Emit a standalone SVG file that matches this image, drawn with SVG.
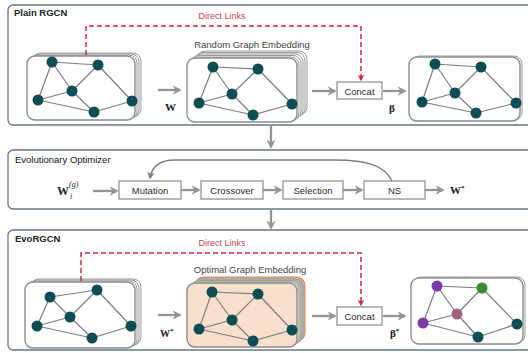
<svg xmlns="http://www.w3.org/2000/svg" width="528" height="353" viewBox="0 0 528 353">
<defs>
<style>
.panel{fill:#ffffff;stroke:#6b7680;stroke-width:1.3}
.title{font-family:"Liberation Sans",Arial,sans-serif;font-weight:bold;font-size:9.5px;fill:#222}
.lbl{font-family:"Liberation Sans",Arial,sans-serif;font-size:9.5px;fill:#2a2a2a;text-anchor:middle}
.red{font-family:"Liberation Sans",Arial,sans-serif;font-size:9px;fill:#cc4455;text-anchor:middle}
.box{fill:#fff;stroke:#7a8288;stroke-width:1.1}
.gb{fill:#fff;stroke:#8c8c8c;stroke-width:1.4}
.gs{fill:#fff;stroke:#9a9a9a;stroke-width:1}
.edge{stroke:#7d7d7d;stroke-width:1.2;fill:none}
.n{fill:#0e4d54}
.arr{stroke:#959595;stroke-width:2.3;fill:none;marker-end:url(#ah)}
.dash{stroke:#c8283a;stroke-width:1.5;fill:none;stroke-dasharray:5,3}
.math{font-family:"Liberation Serif","Times New Roman",serif;font-weight:bold;fill:#222}
</style>
<marker id="ah" viewBox="0 0 10 10" refX="8" refY="5" markerWidth="4" markerHeight="4" orient="auto"><path d="M0,0 L10,5 L0,10 L3,5 z" fill="#959595"/></marker>
<marker id="ah2" viewBox="0 0 10 10" refX="8" refY="5" markerWidth="5" markerHeight="5" orient="auto"><path d="M0,0 L10,5 L0,10 L3,5 z" fill="#7d7d7d"/></marker>
<marker id="rh" viewBox="0 0 10 10" refX="8" refY="5" markerWidth="4.5" markerHeight="4.5" orient="auto"><path d="M0,0 L10,5 L0,10 L3,5 z" fill="#c8283a"/></marker>
</defs>

<!-- Panels -->
<g id="panel-plain">
<rect class="panel" x="8" y="5" width="530" height="120" rx="5"/>
<text class="title" x="14" y="16">Plain RGCN</text>
</g>
<g id="panel-evo">
<rect class="panel" x="8" y="150" width="530" height="59" rx="5"/>
<text class="title" x="15" y="163" style="font-weight:normal;fill:#111">Evolutionary Optimizer</text>
</g>
<g id="panel-evorgcn">
<rect class="panel" x="8" y="230" width="530" height="120" rx="5"/>
<text class="title" x="15" y="242">EvoRGCN</text>
</g>

<!-- Plain RGCN graphs -->
<g id="g1-input">
<rect class="gs" x="33" y="53" width="108" height="64" rx="8"/>
<rect class="gs" x="31" y="54" width="108" height="64" rx="8"/>
<rect class="gs" x="29" y="55" width="108" height="64" rx="8"/>
<rect class="gb" x="27" y="56" width="108" height="64" rx="8"/>
<path class="edge" d="M52,62 L98,65 M52,62 L72,91 M52,62 L38,100 M98,65 L72,91 M98,65 L132,101 M72,91 L38,100 M72,91 L94,112 M38,100 L94,112 M94,112 L132,101"/>
<circle class="n" cx="52" cy="62" r="5.5"/><circle class="n" cx="98" cy="65" r="5.5"/><circle class="n" cx="72" cy="91" r="5.5"/><circle class="n" cx="38" cy="100" r="5.5"/><circle class="n" cx="132" cy="101" r="5.5"/><circle class="n" cx="94" cy="112" r="5.5"/>
</g>
<g id="g1-embed">
<text class="lbl" x="252" y="48" style="fill:#444">Random Graph Embedding</text>
<rect class="gs" x="197" y="51" width="110" height="64" rx="8"/>
<rect class="gs" x="195" y="52.5" width="110" height="64" rx="8"/>
<rect class="gs" x="193" y="54" width="110" height="64" rx="8"/>
<rect class="gs" x="191" y="55.5" width="110" height="64" rx="8"/>
<rect class="gs" x="189" y="57" width="110" height="64" rx="8"/>
<rect class="gb" x="187" y="58" width="110" height="64" rx="8"/>
<path class="edge" d="M213,67 L258,69 M213,67 L232,94 M213,67 L199,103 M258,69 L232,94 M258,69 L292,104 M232,94 L199,103 M232,94 L253,115 M199,103 L253,115 M253,115 L292,104"/>
<circle class="n" cx="213" cy="67" r="5.5"/><circle class="n" cx="258" cy="69" r="5.5"/><circle class="n" cx="232" cy="94" r="5.5"/><circle class="n" cx="199" cy="103" r="5.5"/><circle class="n" cx="292" cy="104" r="5.5"/><circle class="n" cx="253" cy="115" r="5.5"/>
</g>
<g id="concat1">
<rect class="box" x="337" y="82" width="45" height="17"/>
<text class="lbl" x="359.5" y="94.5">Concat</text>
</g>
<g id="g1-output">
<rect class="gs" x="411" y="56" width="111" height="64" rx="8"/>
<rect class="gb" x="409" y="57" width="111" height="64" rx="8"/>
<path class="edge" d="M435,64 L481,67 M435,64 L455,93 M435,64 L422,102 M481,67 L455,93 M481,67 L516,103 M455,93 L422,102 M455,93 L476,113 M422,102 L476,113 M476,113 L516,103"/>
<circle class="n" cx="435" cy="64" r="5.5"/><circle class="n" cx="481" cy="67" r="5.5"/><circle class="n" cx="455" cy="93" r="5.5"/><circle class="n" cx="422" cy="102" r="5.5"/><circle class="n" cx="516" cy="103" r="5.5"/><circle class="n" cx="476" cy="113" r="5.5"/>
</g>

<!-- Evolutionary optimizer nodes -->
<g id="mutation"><rect class="box" x="119" y="181" width="62" height="18"/><text class="lbl" x="150" y="193.5">Mutation</text></g>
<g id="crossover"><rect class="box" x="201" y="181" width="62" height="18"/><text class="lbl" x="232" y="193.5">Crossover</text></g>
<g id="selection"><rect class="box" x="283" y="181" width="60" height="18"/><text class="lbl" x="313" y="193.5">Selection</text></g>
<g id="ns"><rect class="box" x="364" y="181" width="61" height="18"/><text class="lbl" x="394.5" y="193.5">NS</text></g>

<!-- EvoRGCN graphs -->
<g id="g3-input">
<rect class="gs" x="31" y="279" width="110" height="66" rx="8"/>
<rect class="gs" x="29" y="280" width="110" height="66" rx="8"/>
<rect class="gs" x="27" y="281" width="110" height="66" rx="8"/>
<rect class="gb" x="25" y="282" width="110" height="66" rx="8"/>
<path class="edge" d="M50,297 L97,290 M50,297 L70,317 M50,297 L37,326 M97,290 L70,317 M97,290 L131,326 M70,317 L37,326 M70,317 L92,338 M37,326 L92,338 M92,338 L131,326"/>
<circle class="n" cx="50" cy="297" r="5.5"/><circle class="n" cx="97" cy="290" r="5.5"/><circle class="n" cx="70" cy="317" r="5.5"/><circle class="n" cx="37" cy="326" r="5.5"/><circle class="n" cx="131" cy="326" r="5.5"/><circle class="n" cx="92" cy="338" r="5.5"/>
</g>
<g id="g3-embed">
<text class="lbl" x="250" y="273" style="fill:#444">Optimal Graph Embedding</text>
<rect x="195" y="277" width="110" height="64" rx="8" fill="#e3a77e" stroke="#c98c62" stroke-width="1"/>
<rect x="193" y="279" width="110" height="64" rx="8" fill="#aebbd4" stroke="#8f9db8" stroke-width="1"/>
<rect x="191" y="280.5" width="110" height="64" rx="8" fill="#b9c6a9" stroke="#98a688" stroke-width="1"/>
<rect x="189" y="282" width="110" height="64" rx="8" fill="#f8dccb" stroke="#b0a49a" stroke-width="1"/>
<rect x="187" y="283" width="110" height="64" rx="8" fill="#f8dfce" stroke="#8c8c8c" stroke-width="1.4"/>
<path class="edge" d="M212,292 L258,294 M212,292 L232,320 M212,292 L199,329 M258,294 L232,320 M258,294 L292,330 M232,320 L199,329 M232,320 L253,341 M199,329 L253,341 M253,341 L292,330"/>
<circle class="n" cx="212" cy="292" r="5.5"/><circle class="n" cx="258" cy="294" r="5.5"/><circle class="n" cx="232" cy="320" r="5.5"/><circle class="n" cx="199" cy="329" r="5.5"/><circle class="n" cx="292" cy="330" r="5.5"/><circle class="n" cx="253" cy="341" r="5.5"/>
</g>
<g id="concat2">
<rect class="box" x="337" y="307" width="45" height="18"/>
<text class="lbl" x="359.5" y="319.5">Concat</text>
</g>
<g id="g3-output">
<rect class="gs" x="413" y="277" width="112" height="66" rx="8"/>
<rect class="gb" x="411" y="278" width="112" height="66" rx="8"/>
<path class="edge" d="M437,286 L482,288 M437,286 L457,314 M437,286 L423,323 M482,288 L457,314 M482,288 L517,324 M457,314 L423,323 M457,314 L478,337 M423,323 L478,337 M478,337 L517,324"/>
<circle cx="437" cy="286" r="5.5" fill="#7b3aa3"/><circle cx="482" cy="288" r="5.5" fill="#3a8a3a"/><circle cx="457" cy="314" r="5.5" fill="#a2627e"/><circle cx="423" cy="323" r="5.5" fill="#7b3aa3"/><circle class="n" cx="517" cy="324" r="5.5"/><circle class="n" cx="478" cy="337" r="5.5"/>
</g>

<!-- Connectors -->
<g id="connectors">
<path class="dash" d="M86,55 L86,26 L361,26 L361,80" marker-end="url(#rh)"/>
<text class="red" x="222" y="19">Direct Links</text>
<path class="arr" d="M158,90 L180,90"/>
<path class="arr" d="M312,91 L335,91"/>
<path class="arr" d="M383,91 L405,91"/>
<path class="arr" d="M271,126 L271,147"/>
<path class="arr" d="M93,191 L117,191"/>
<path class="arr" d="M181,190 L199,190"/>
<path class="arr" d="M263,190 L281,190"/>
<path class="arr" d="M343,190 L362,190"/>
<path class="arr" d="M425,190 L443,190"/>
<path d="M392,181 C385,166 368,160 335,160 L175,160 C160,160 152,166 150,178" stroke="#7d7d7d" stroke-width="1.5" fill="none" marker-end="url(#ah2)"/>
<path class="arr" d="M271,210 L271,228"/>
<path class="dash" d="M81,281 L81,253 L361,253 L361,305" marker-end="url(#rh)"/>
<text class="red" x="222" y="246">Direct Links</text>
<path class="arr" d="M158,315 L180,315"/>
<path class="arr" d="M312,316 L335,316"/>
<path class="arr" d="M383,316 L405,316"/>
</g>

<!-- math labels -->
<text class="math" x="165" y="111" font-size="11" font-family="Liberation Sans">W</text>
<text class="math" x="389" y="112" font-size="11">β</text>
<text class="math" x="57" y="195" font-size="12">W</text>
<text x="70" y="199" font-family="Liberation Serif" font-style="italic" font-size="8" fill="#222">i</text>
<text x="69" y="187" font-family="Liberation Serif" font-style="italic" font-size="8" fill="#222">(g)</text>
<text class="math" x="450" y="194" font-size="11" font-family="Liberation Sans">W<tspan font-size="7" dy="-4">*</tspan></text>
<text class="math" x="160" y="337" font-size="10" font-family="Liberation Sans">W<tspan font-size="7" dy="-4">*</tspan></text>
<text class="math" x="390" y="337" font-size="11">β<tspan font-size="7" dy="-4">*</tspan></text>
</svg>
